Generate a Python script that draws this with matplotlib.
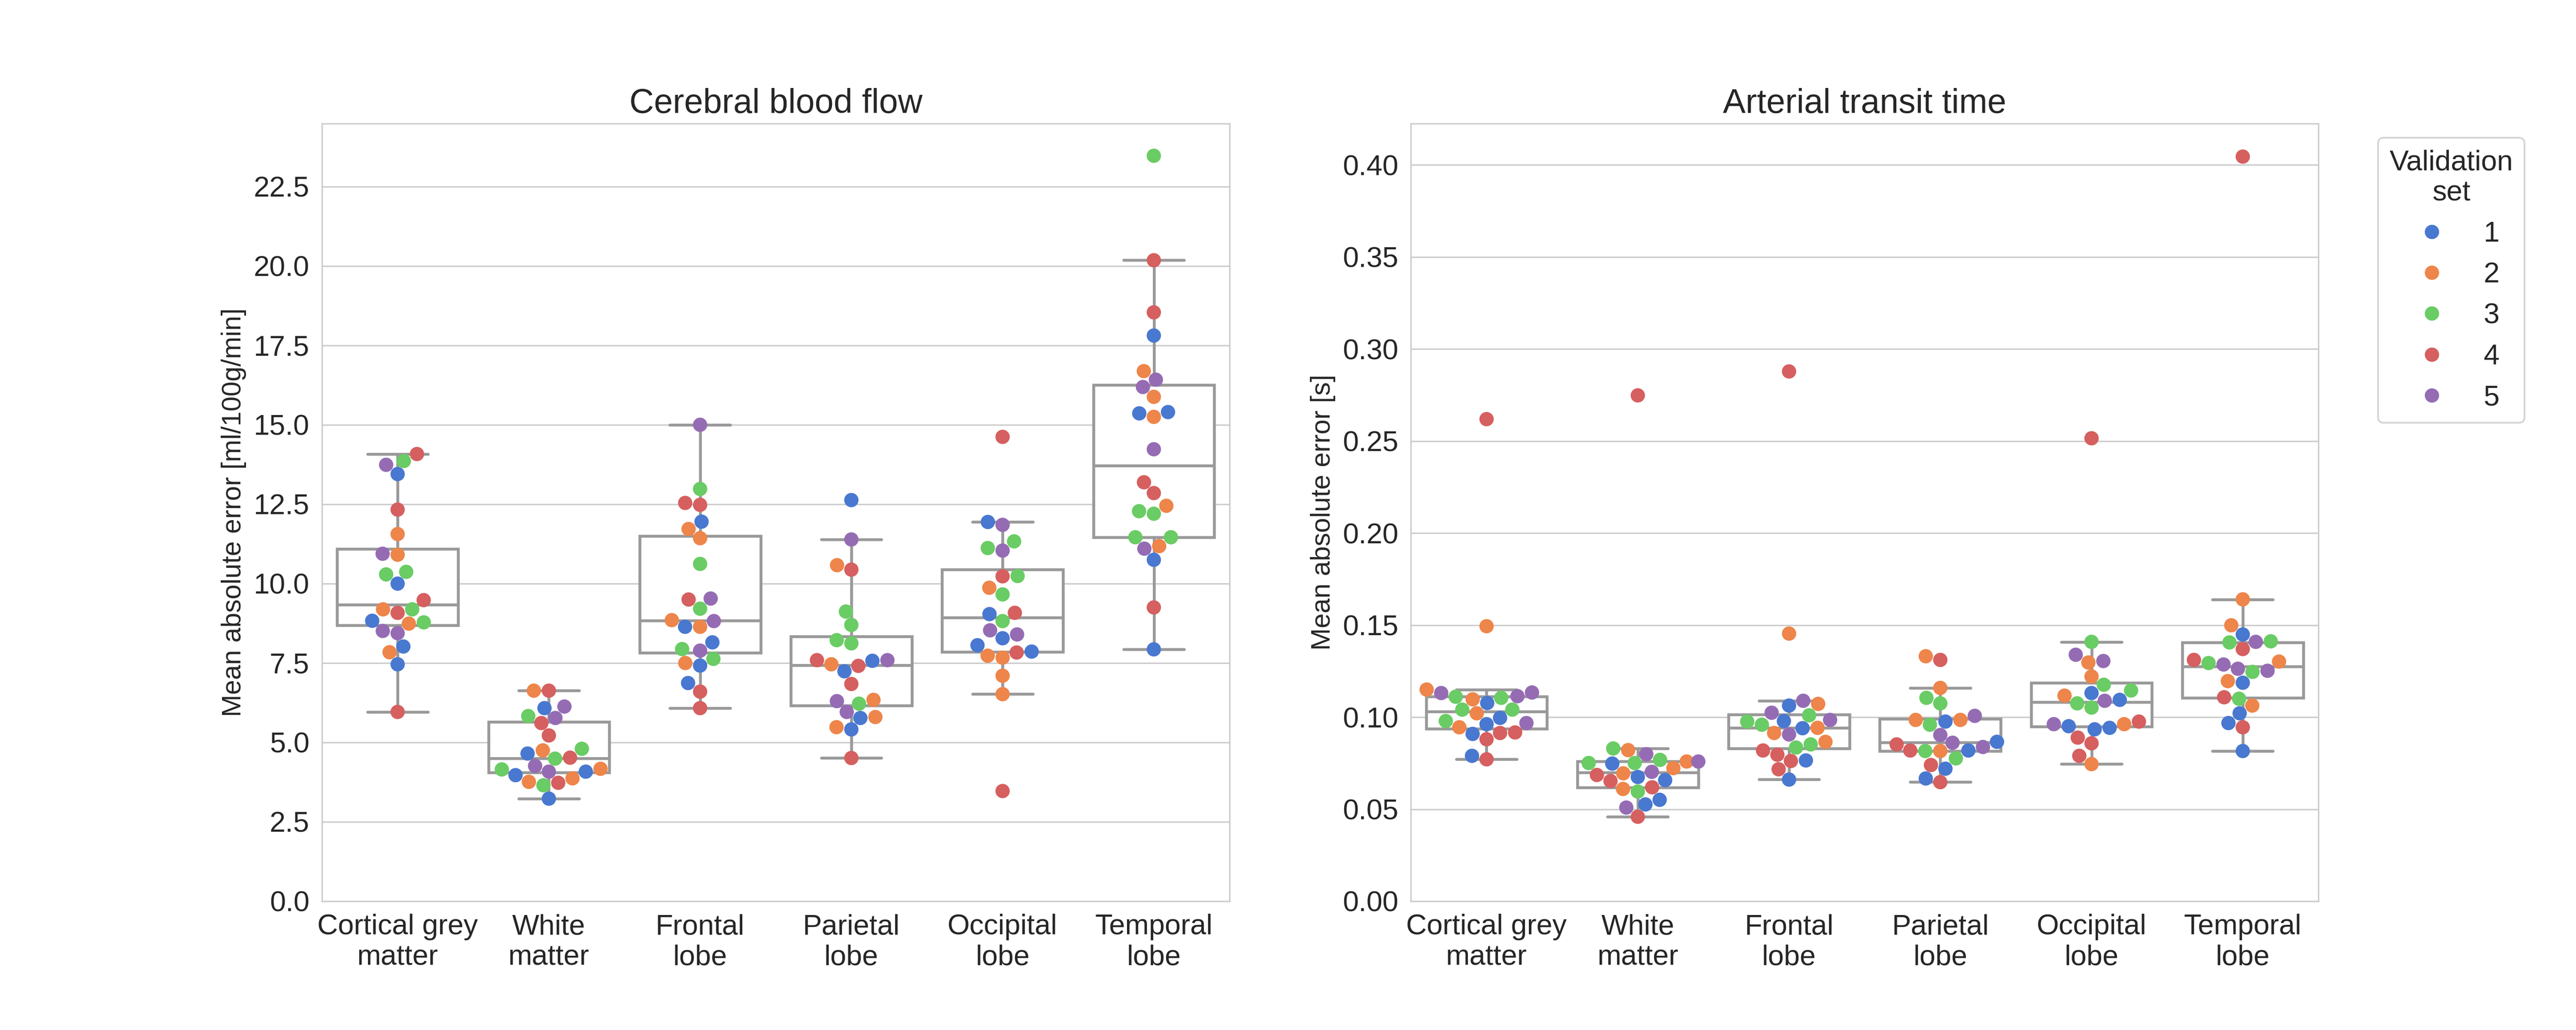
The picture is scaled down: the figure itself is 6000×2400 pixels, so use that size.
import matplotlib
matplotlib.use("Agg")
import matplotlib.pyplot as plt
from matplotlib.ticker import MultipleLocator, FormatStrFormatter
import pandas as pd
import seaborn as sns

regions = ["Cortical grey\nmatter", "White\nmatter", "Frontal\nlobe",
           "Parietal\nlobe", "Occipital\nlobe", "Temporal\nlobe"]
val_sets = ["1", "2", "3", "4", "5"]

# cerebral blood flow, mean absolute error per subject, keyed by validation set
cbf_cortical = {"1": [13.45, 10.0, 8.83, 8.02, 7.46], "2": [11.56, 10.91, 9.19, 8.74, 7.84],
                "3": [13.86, 10.37, 10.29, 9.19, 8.78], "4": [14.08, 12.33, 9.48, 9.08, 5.96],
                "5": [13.74, 10.94, 8.51, 8.44]}
cbf_white = {"1": [6.08, 4.65, 4.08, 3.97, 3.23], "2": [6.63, 4.75, 4.17, 3.87, 3.76],
             "3": [5.83, 4.80, 4.49, 4.15, 3.65], "4": [6.63, 5.61, 5.22, 4.52, 3.73],
             "5": [6.13, 5.77, 4.26, 4.08]}
cbf_frontal = {"1": [11.95, 8.64, 8.15, 7.42, 6.87], "2": [11.72, 11.43, 8.85, 8.64, 7.50],
               "3": [12.98, 10.62, 9.21, 7.94, 7.63], "4": [12.54, 12.48, 9.50, 6.60, 6.08],
               "5": [15.0, 9.53, 8.82, 7.89]}
cbf_parietal = {"1": [12.63, 7.57, 7.24, 5.77, 5.41], "2": [10.58, 7.46, 6.34, 5.80, 5.48],
                "3": [9.12, 8.70, 8.22, 8.12, 6.22], "4": [10.44, 7.59, 7.41, 6.84, 4.51],
                "5": [11.39, 7.59, 6.30, 5.96]}
cbf_occipital = {"1": [11.94, 9.04, 8.28, 8.06, 7.86], "2": [9.87, 7.73, 7.67, 7.10, 6.52],
                 "3": [11.33, 11.12, 10.24, 9.66, 8.82], "4": [14.62, 10.23, 9.08, 7.83, 3.47],
                 "5": [11.85, 11.04, 8.53, 8.40]}
cbf_temporal = {"1": [17.81, 15.40, 15.36, 10.75, 7.93], "2": [16.69, 15.88, 15.25, 12.45, 11.18],
                "3": [23.47, 12.28, 12.20, 11.46, 11.46], "4": [20.18, 18.54, 13.19, 12.85, 9.25],
                "5": [16.42, 16.19, 14.23, 11.10]}

# arterial transit time
att_cortical = {"1": [0.1077, 0.0996, 0.0962, 0.0909, 0.0790], "2": [0.1494, 0.1150, 0.1097, 0.1021, 0.0945],
                "3": [0.1111, 0.1105, 0.1041, 0.1041, 0.0979], "4": [0.2619, 0.0917, 0.0914, 0.0880, 0.0771],
                "5": [0.1134, 0.1131, 0.1114, 0.0968]}
att_white = {"1": [0.0748, 0.0675, 0.0658, 0.0551, 0.0526], "2": [0.0821, 0.0759, 0.0723, 0.0695, 0.0610],
             "3": [0.0830, 0.0768, 0.0751, 0.0751, 0.0596], "4": [0.2748, 0.0686, 0.0653, 0.0619, 0.0459],
             "5": [0.0799, 0.0759, 0.0703, 0.0509]}
att_frontal = {"1": [0.1063, 0.0979, 0.0940, 0.0765, 0.0661], "2": [0.1454, 0.1072, 0.0942, 0.0914, 0.0866],
               "3": [0.1010, 0.0976, 0.0959, 0.0852, 0.0835], "4": [0.2878, 0.0819, 0.0796, 0.0762, 0.0717],
               "5": [0.1089, 0.1024, 0.0985, 0.0906]}
att_parietal = {"1": [0.0976, 0.0866, 0.0819, 0.0720, 0.0667], "2": [0.1331, 0.1159, 0.0985, 0.0985, 0.0816],
                "3": [0.1105, 0.1075, 0.0959, 0.0816, 0.0776], "4": [0.1311, 0.0852, 0.0819, 0.0740, 0.0647],
                "5": [0.1007, 0.0903, 0.0861, 0.0838]}
att_occipital = {"1": [0.1131, 0.1094, 0.0951, 0.0942, 0.0934], "2": [0.1297, 0.1221, 0.1117, 0.0962, 0.0745],
                 "3": [0.1409, 0.1176, 0.1145, 0.1075, 0.1052], "4": [0.2515, 0.0976, 0.0889, 0.0858, 0.0790],
                 "5": [0.1339, 0.1305, 0.1089, 0.0962]}
att_temporal = {"1": [0.1449, 0.1187, 0.1021, 0.0968, 0.0816], "2": [0.1640, 0.1499, 0.1302, 0.1196, 0.1063],
                "3": [0.1412, 0.1406, 0.1294, 0.1246, 0.1100], "4": [0.4045, 0.1370, 0.1311, 0.1108, 0.0945],
                "5": [0.1409, 0.1286, 0.1263, 0.1252]}

cbf_data = [cbf_cortical, cbf_white, cbf_frontal, cbf_parietal, cbf_occipital, cbf_temporal]
att_data = [att_cortical, att_white, att_frontal, att_parietal, att_occipital, att_temporal]


def to_frame(per_region):
    rows = []
    for region, by_set in zip(regions, per_region):
        for s in val_sets:
            for v in by_set[s]:
                rows.append((region, s, v))
    return pd.DataFrame(rows, columns=["region", "set", "mae"])


sns.set_style("whitegrid")
plt.rcParams["font.family"] = ["Liberation Sans", "DejaVu Sans"]

grey = "#999999"
fig, axes = plt.subplots(1, 2, figsize=(20, 8))
fig.subplots_adjust(left=0.125, right=0.9, bottom=0.125, top=0.88, wspace=0.2)

panels = [(cbf_data, "Cerebral blood flow", "Mean absolute error [ml/100g/min]", 2.5, "%.1f"),
          (att_data, "Arterial transit time", "Mean absolute error [s]", 0.05, "%.2f")]

for ax, (data, title, ylabel, step, fmt) in zip(axes, panels):
    df = to_frame(data)
    sns.boxplot(data=df, x="region", y="mae", order=regions, color="white",
                width=0.8, showfliers=False, linewidth=1.6, ax=ax,
                boxprops=dict(facecolor="white", edgecolor=grey),
                whiskerprops=dict(color=grey), capprops=dict(color=grey),
                medianprops=dict(color=grey))
    sns.swarmplot(data=df, x="region", y="mae", order=regions, hue="set",
                  hue_order=val_sets, palette="muted", size=8, ax=ax)
    ax.set_ylim(bottom=0)
    ax.yaxis.set_major_locator(MultipleLocator(step))
    ax.yaxis.set_major_formatter(FormatStrFormatter(fmt))
    ax.set_title(title, fontsize=19)
    ax.set_ylabel(ylabel, fontsize=15)
    ax.set_xlabel("")
    ax.tick_params(labelsize=16)
    ax.grid(axis="y", color="#cccccc", linewidth=0.8)
    ax.grid(axis="x", visible=False)
    for sp in ax.spines.values():
        sp.set_color("#cccccc")
        sp.set_linewidth(0.8)

axes[0].get_legend().remove()
leg = axes[1].legend(title="Validation\nset", bbox_to_anchor=(1.05, 1), loc="upper left",
                     fontsize=16, title_fontsize=16)
leg.get_title().set_multialignment("center")

fig.savefig("out.png", dpi=300)
